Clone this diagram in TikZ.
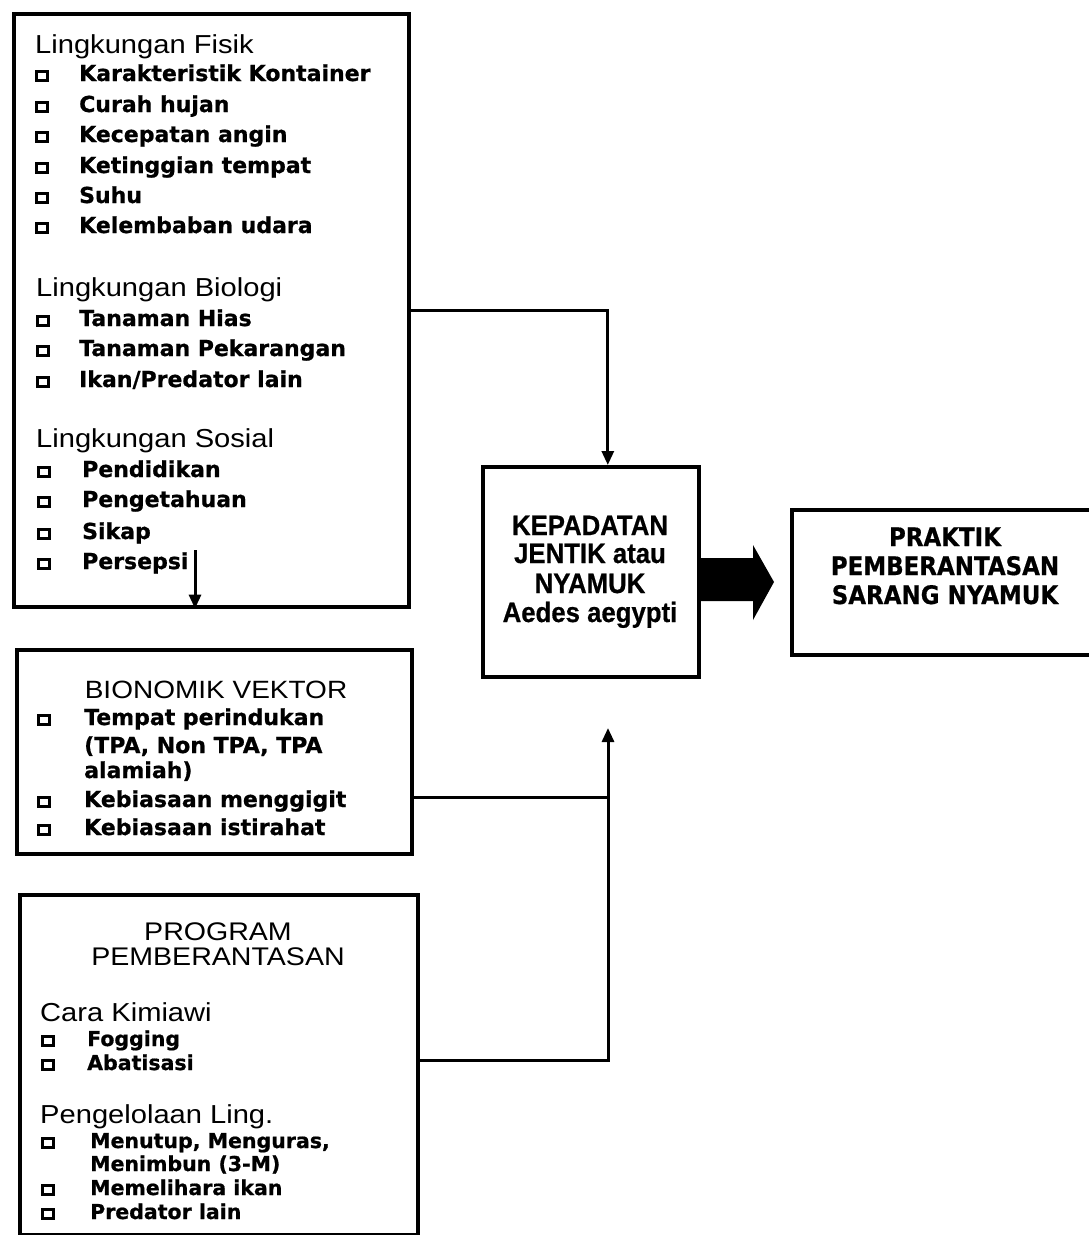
\documentclass[tikz,border=0pt]{standalone}
\usepackage{fontspec}
\setmainfont{DejaVu Sans}[BoldFeatures={FakeBold=0.8}]
\newfontfamily\hdfont[FakeStretch=1.12]{Liberation Sans}
\newfontfamily\narfont[FakeStretch=0.92,BoldFeatures={FakeBold=0.6}]{Liberation Sans}
\newfontfamily\condfont[FakeStretch=0.9,BoldFeatures={FakeBold=0.6}]{DejaVu Sans}
\usetikzlibrary{arrows.meta}
\tikzset{
  box/.style={draw, line width=3.6pt, inner sep=0pt, anchor=north west},
  conn/.style={line width=3pt},
  tip/.style={-{Triangle[length=14pt,width=12pt]}},
  bul/.style={draw, line width=2.2pt, minimum width=11pt, minimum height=9pt, inner sep=0pt},
  itemA/.style={anchor=base west, inner sep=0pt, font=\fontsize{22}{26}\selectfont\bfseries},
  itemB/.style={anchor=base west, inner sep=0pt, font=\fontsize{20.5}{24}\selectfont\bfseries},
  headA/.style={anchor=base west, inner sep=0pt, font=\fontsize{26}{30}\selectfont\hdfont},
  headC/.style={anchor=base, inner sep=0pt, font=\fontsize{25.5}{30}\selectfont\hdfont},
  headD/.style={anchor=base, inner sep=0pt, font=\fontsize{25}{30}\selectfont\hdfont},
  kep/.style={anchor=base, inner sep=0pt, font=\fontsize{28}{30}\selectfont\narfont\bfseries},
  prk/.style={anchor=base, inner sep=0pt, font=\fontsize{25.5}{30}\selectfont\condfont\bfseries},
}
\newcommand\itmA[5]{\node[bul] (#1b) at (#5,#3-5) {}; \node[itemA] (#1) at (#2,#3) {#4};}
\newcommand\itmB[5]{\node[bul] (#1b) at (#5,#3-5) {}; \node[itemB] (#1) at (#2,#3) {#4};}
\begin{document}
\begin{tikzpicture}[x=1pt,y=-1pt]
\useasboundingbox (0,0) rectangle (1088,1235);
% boxes
\node[box, minimum width=395pt, minimum height=593pt] (b1) at (12,12) {};
\node[box, minimum width=395pt, minimum height=204pt] (b2) at (15,648) {};
\node[box, minimum width=398pt, minimum height=340pt] (b3) at (18,893) {};
\node[box, minimum width=216pt, minimum height=210pt] (bk) at (481,465) {};
\node[box, minimum width=310pt, minimum height=145pt] (bp) at (790,508) {};
% box 1 text
\node[headA] (h1) at (35,53) {Lingkungan Fisik};
\itmA{f1}{79}{81}{Karakteristik Kontainer}{42}
\itmA{f2}{79}{112}{Curah hujan}{42}
\itmA{f3}{79}{142}{Kecepatan angin}{42}
\itmA{f4}{79}{173}{Ketinggian tempat}{42}
\itmA{f5}{79}{203}{Suhu}{42}
\itmA{f6}{79}{233}{Kelembaban udara}{42}
\node[headA] (h2) at (36,296) {Lingkungan Biologi};
\itmA{g1}{79}{326}{Tanaman Hias}{43}
\itmA{g2}{79}{356}{Tanaman Pekarangan}{43}
\itmA{g3}{79}{387}{Ikan/Predator lain}{43}
\node[headA] (h3) at (36,447) {Lingkungan Sosial};
\itmA{s1}{82}{477}{Pendidikan}{44}
\itmA{s2}{82}{507}{Pengetahuan}{44}
\itmA{s3}{82}{539}{Sikap}{44}
\itmA{s4}{82}{569}{Persepsi}{44}
% box 2 text
\node[headD] (h4) at (216,698) {BIONOMIK VEKTOR};
\itmA{v1}{84}{725}{Tempat perindukan}{44}
\node[itemA] (v1b2) at (84,753) {(TPA, Non TPA, TPA};
\node[itemA] (v1b3) at (84,778) {alamiah)};
\itmA{v2}{84}{807}{Kebiasaan menggigit}{44}
\itmA{v3}{84}{835}{Kebiasaan istirahat}{44}
% box 3 text
\node[headC] (h5) at (218,940) {PROGRAM};
\node[headC] (h6) at (218,965) {PEMBERANTASAN};
\node[headA] (h7) at (40,1021) {Cara Kimiawi};
\itmB{p1}{87}{1046}{Fogging}{48}
\itmB{p2}{87}{1070}{Abatisasi}{48}
\node[headA] (h8) at (40,1123) {Pengelolaan Ling.};
\itmB{p3}{90}{1148}{Menutup, Menguras,}{48}
\node[itemB] (p3b2) at (90,1171) {Menimbun (3-M)};
\itmB{p4}{90}{1195}{Memelihara ikan}{48}
\itmB{p5}{90}{1219}{Predator lain}{48}
% central boxes text
\node[kep] (k1) at (590,535) {KEPADATAN};
\node[kep] (k2) at (590,563) {JENTIK atau};
\node[kep] (k3) at (590,593) {NYAMUK};
\node[kep] (k4) at (590,622) {Aedes aegypti};
\node[prk] (r1) at (945,546) {PRAKTIK};
\node[prk] (r2) at (945,575) {PEMBERANTASAN};
\node[prk] (r3) at (945,604) {SARANG NYAMUK};
% connectors
\draw[conn, tip] (b1.east) -| ([xshift=17pt]bk.north);
\coordinate (pa) at (195,550);
\draw[conn, tip] (pa) -- (pa |- b1.south);
\coordinate (j2) at (608,797);
\coordinate (j3) at (608,1060);
\coordinate (up) at (608,728);
\draw[conn] (b2.east |- j2) -- (j2);
\draw[conn, tip] (b3.east |- j3) -- (j3) -- (up);
% fat arrow
\fill (bk.east |- 0,558) -- (753,558) -- (753,545) -- (774,582) -- (753,620) -- (753,601) -- (bk.east |- 0,601) -- cycle;
\end{tikzpicture}
\end{document}
